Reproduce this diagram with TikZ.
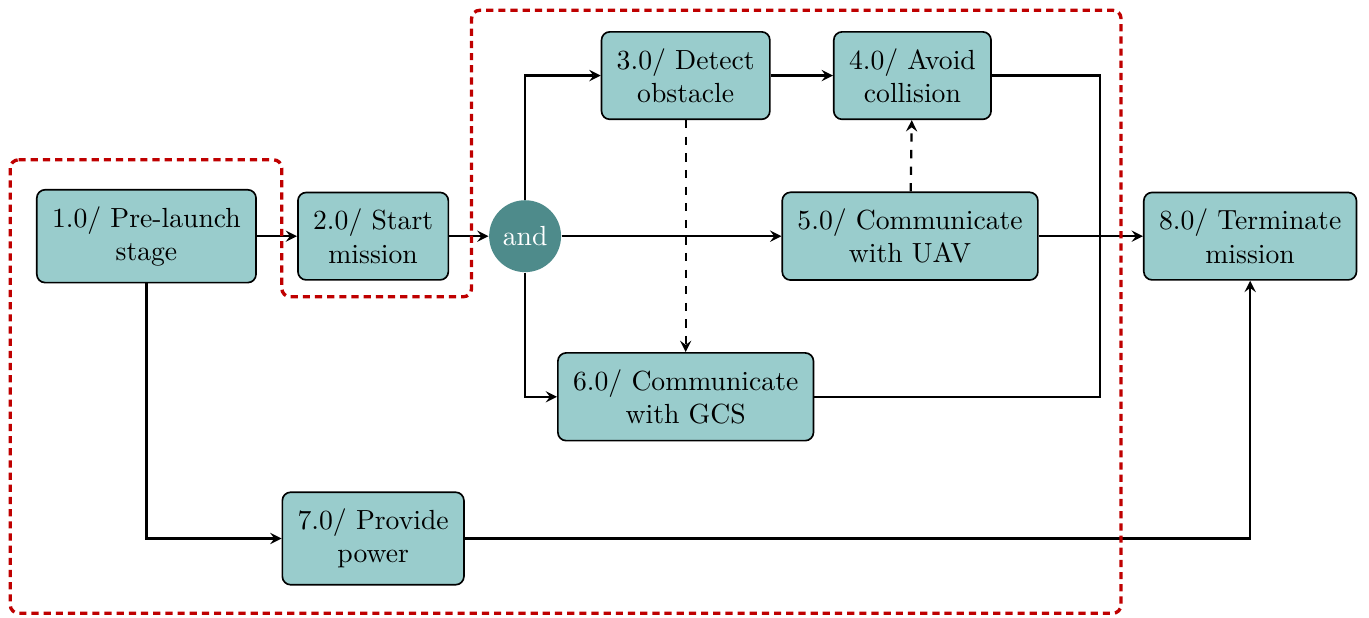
\documentclass[tikz,border=0pt]{standalone}
\usepackage{tikz}
\usetikzlibrary{arrows,shapes}
\usetikzlibrary{positioning}
\usetikzlibrary{calc}
\definecolor{andteal}{HTML}{4E8B8B}
\tikzstyle{process}=[rectangle,rounded corners=3pt,draw=black,semithick,fill=teal!40,align=center,inner xsep=5.5pt,inner ysep=6pt]
\tikzstyle{andgate}=[circle,fill=andteal,text=white,minimum size=26pt,inner sep=0pt]
\tikzstyle{edge} = [draw,thick,-stealth]
\tikzstyle{link} = [draw,thick]
\tikzstyle{boundary} = [draw,red!75!black,line width=1.2pt,dash pattern=on 2.6pt off 1.8pt,rounded corners=3pt]

\begin{document}
\begin{tikzpicture}
\useasboundingbox (0,0) rectangle (17.39,-7.84);

    % First the processes
    \foreach \pos/\name/\num/\desc in {{(1.86,-3.0)/s1/1.0/{Pre-launch\\stage}}, {(4.74,-3.0)/s2/2.0/{Start\\mission}}, {(8.71,-0.96)/s3/3.0/{Detect\\obstacle}}, {(11.59,-0.96)/s4/4.0/{Avoid\\collision}}, {(11.56,-3.0)/s5/5.0/{Communicate\\with UAV}}, {(8.71,-5.04)/s6/6.0/{Communicate\\with GCS}}, {(4.74,-6.84)/s7/7.0/{Provide\\power}}, {(15.88,-3.0)/s8/8.0/{Terminate\\mission}}}
        \node[process] (\name) at \pos {\num/ \desc};

    \node[andgate] (and) at (6.67,-3.0) {and};
    \coordinate (merge) at (13.97,-3.0);

    % Control flow
  \foreach \source/ \dest in {s1/s2, s2/and, and/s5, s3/s4, s5/s8}
          \path[edge] (\source) -- (\dest);
  \path[edge] (and) |- (s3);
  \path[edge] (and) |- (s6);
  \path[edge] (s1) |- (s7);
  \path[edge] (s7) -| (s8);
  \path[link] (s4) -| (merge);
  \path[link] (s6) -| (merge);

    % Dependencies
  \foreach \source/ \dest in {s3/s6, s5/s4}
          \path[edge, dashed] (\source) -- (\dest);

%boundary
  \draw[boundary] (0.13,-2.03) -- (3.58,-2.03) -- (3.58,-3.77) -- (5.99,-3.77) -- (5.99,-0.13) -- (14.24,-0.13) -- (14.24,-7.79) -- (0.13,-7.79) -- cycle;

   \end{tikzpicture}
\end{document}
